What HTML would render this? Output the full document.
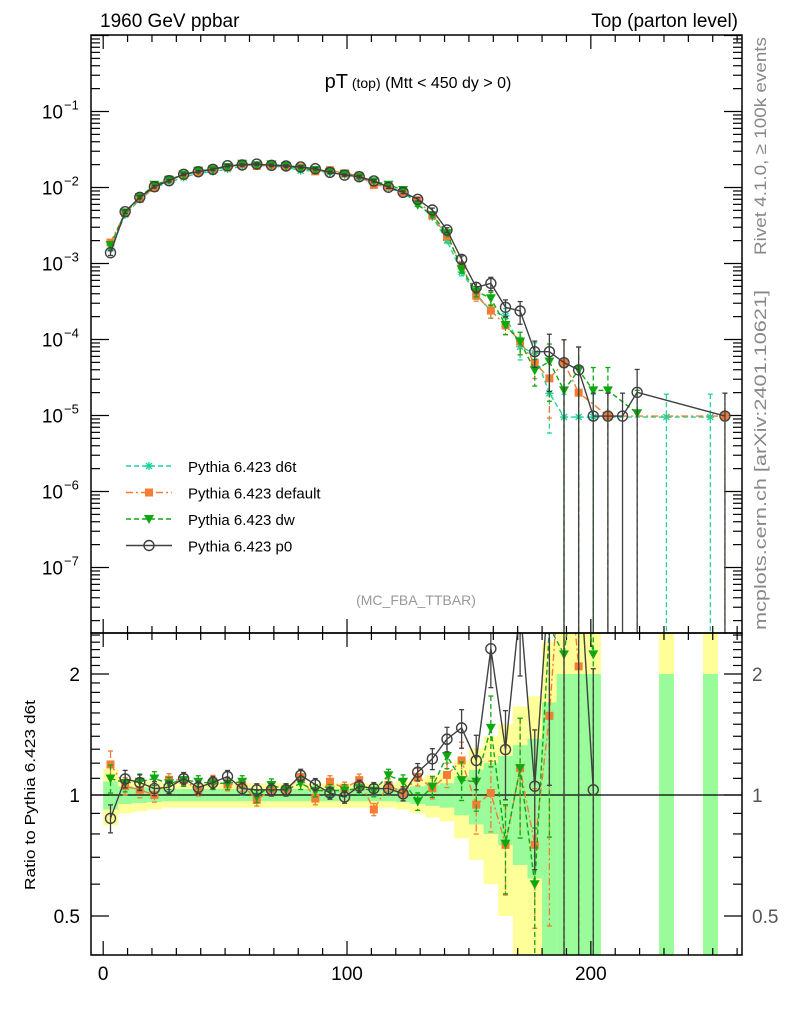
<!DOCTYPE html>
<html><head><meta charset="utf-8"><style>
body{margin:0;background:#fff;}
svg text{font-family:"Liberation Sans",sans-serif;}
</style></head><body>
<svg id="chart" width="786" height="1024" viewBox="0 0 786 1024" xmlns="http://www.w3.org/2000/svg">
<defs>
<clipPath id="clipMain"><rect x="91" y="35" width="651" height="598"/></clipPath>
<clipPath id="clipRatio"><rect x="91" y="633" width="651" height="322"/></clipPath>
</defs>
<g id="bands" clip-path="url(#clipRatio)"></g>
<g id="grid"></g>
<g id="mainMarks" clip-path="url(#clipMain)"></g>
<g id="ratioMarks" clip-path="url(#clipRatio)"></g>
<rect x="91" y="35" width="651" height="598" fill="none" stroke="#000" stroke-width="1.5"/>
<rect x="91" y="633" width="651" height="322" fill="none" stroke="#000" stroke-width="1.5"/>
<text x="100" y="27" font-size="19">1960 GeV ppbar</text>
<text x="738" y="27" font-size="19" text-anchor="end">Top (parton level)</text>
<text x="418" y="88" text-anchor="middle"><tspan font-size="20">pT</tspan><tspan font-size="14"> (top)</tspan><tspan font-size="16"> (Mtt &lt; 450 dy &gt; 0)</tspan></text>
<text x="416" y="605" font-size="14" fill="#999" text-anchor="middle">(MC_FBA_TTBAR)</text>
<text transform="translate(766,255) rotate(-90)" font-size="17" fill="#888" textLength="218" lengthAdjust="spacingAndGlyphs">Rivet 4.1.0, ≥ 100k events</text>
<text transform="translate(766,630) rotate(-90)" font-size="17" fill="#888" textLength="340" lengthAdjust="spacingAndGlyphs">mcplots.cern.ch [arXiv:2401.10621]</text>
<text transform="translate(35,890) rotate(-90)" font-size="15" textLength="190" lengthAdjust="spacingAndGlyphs">Ratio to Pythia 6.423 d6t</text>
<g id="legend"></g>
</svg>
<script>
// ---- data ----
const binCenters = [3,9,15,21,27,33,39,45,51,57,63,69,75,81,87,93,99,105,111,117,123,129,135,141,147,153,159,165,171,177,183,189,195,201,207,213,219,225,231,237,243,249,255];
const d6tLog = [-2.80,-2.358,-2.160,-2.005,-1.930,-1.867,-1.811,-1.792,-1.759,-1.720,-1.704,-1.721,-1.730,-1.779,-1.779,-1.805,-1.831,-1.880,-1.930,-2.013,-2.066,-2.212,-2.386,-2.698,-3.112,-3.399,-3.625,-3.689,-4.095,-4.183,-4.708,-5.02,-5.02,-5.02,null,null,null,null,-5.02,null,null,-5.02,null];
const defaultLog = [-2.724,-2.336,-2.147,-2.005,-1.892,-1.830,-1.798,-1.758,-1.733,-1.695,-1.716,-1.708,-1.717,-1.734,-1.788,-1.772,-1.814,-1.843,-1.966,-1.988,-2.062,-2.167,-2.369,-2.648,-3.026,-3.423,-3.620,-3.813,-4.028,-4.307,-4.511,-4.305,-4.70,null,-5.007,null,null,null,null,null,null,null,-5.007];
const dwLog = [-2.759,-2.328,-2.127,-1.964,-1.901,-1.830,-1.778,-1.763,-1.730,-1.687,-1.708,-1.696,-1.717,-1.750,-1.768,-1.794,-1.820,-1.863,-1.919,-1.964,-2.033,-2.228,-2.365,-2.601,-3.075,-3.366,-3.458,-3.810,-4.028,-4.405,-4.29,-4.67,-4.40,-4.67,-4.67,null,-4.97,null,null,null,null,null,null];
const p0Log = [-2.858,-2.318,-2.129,-1.989,-1.911,-1.826,-1.792,-1.761,-1.713,-1.704,-1.691,-1.708,-1.717,-1.730,-1.753,-1.800,-1.836,-1.858,-1.914,-1.997,-2.063,-2.155,-2.296,-2.559,-2.945,-3.313,-3.261,-3.576,-3.625,-4.161,-4.161,-4.305,-4.40,-5.007,-5.007,-5.007,-4.695,null,null,null,null,null,-5.007];
const relErr = [0.08,0.05,0.045,0.04,0.035,0.035,0.035,0.035,0.035,0.035,0.035,0.035,0.035,0.035,0.035,0.035,0.035,0.035,0.035,0.035,0.04,0.05,0.06,0.07,0.11,0.155,0.2,0.25,0.33,0.38,0.7,1,1,1,1,1,1,1,1,1,1,1,1];
const xTickLabels = [0,100,200];
const mainTickExps = [-1,-2,-3,-4,-5,-6,-7];
const ratioTickLabels = [0.5,1,2];

// ---- axes ----
const X0=91,X1=742,XMIN=-5,XMAX=262;
function xp(x){return X0+(x-XMIN)/(XMAX-XMIN)*(X1-X0);}
function yMain(lg){return 187.5+(-2-lg)*76;}
function yRatio(r){return 795-Math.log2(r)*121;}
const NS="http://www.w3.org/2000/svg";
function mk(tag,attrs,parent){const e=document.createElementNS(NS,tag);for(const k in attrs)e.setAttribute(k,attrs[k]);parent.appendChild(e);return e;}
const grid=document.getElementById('grid');

for(let v=0;v<=260;v+=10){
  const major=v%100===0, len=major?14:7, x=xp(v);
  [[35,1],[633,-1],[633,1],[955,-1]].forEach(([y,d])=>{
    const t=mk('line',{x1:x,x2:x,y1:y,y2:y+d*len,stroke:'#000','stroke-width':1.2},grid);
    
    
  });
}
xTickLabels.forEach(v=>{
  const t=mk('text',{x:xp(v),y:980,'font-size':19,'text-anchor':'middle'},grid);
  t.textContent=v;
  
  
});
for(let e=0;e>=-8;e--){
  for(let m=1;m<=9;m++){
    const lg=e+Math.log10(m); const y=yMain(lg);
    if(y<35||y>633)continue;
    const len=m===1?18:9;
    const a=mk('line',{x1:X0,x2:X0+len,y1:y,y2:y,stroke:'#000','stroke-width':1.2},grid);
    
    
    const b=mk('line',{x1:X1,x2:X1-len,y1:y,y2:y,stroke:'#000','stroke-width':1.2},grid);
    
    
  }
}
mainTickExps.forEach(e=>{
  const t=mk('text',{x:63,y:yMain(e)+7,'font-size':19,'text-anchor':'end'},grid);
  t.textContent='10';
  
  
  const s=mk('text',{x:64,y:yMain(e)-2,'font-size':13},grid);
  s.textContent='−'+(-e);
  
  
});
for(let r=0.4;r<=2.55;r+=0.1){
  const rr=Math.round(r*10)/10; const y=yRatio(rr);
  if(y<633||y>955)continue;
  const major=(rr===0.5||rr===1||rr===2); const len=major?18:9;
  const a=mk('line',{x1:X0,x2:X0+len,y1:y,y2:y,stroke:'#000','stroke-width':1.2},grid);
  
  
  const b=mk('line',{x1:X1,x2:X1-len,y1:y,y2:y,stroke:'#000','stroke-width':1.2},grid);
  
  
}
ratioTickLabels.forEach(v=>{
  const l=mk('text',{x:80,y:yRatio(v)+7,'font-size':19,'text-anchor':'end'},grid);
  l.textContent=v;
  
  
  const r=mk('text',{x:752,y:yRatio(v)+7,'font-size':19,fill:'#555'},grid);
  r.textContent=v;
  
  
});

// ---- bands ----
const bands=document.getElementById('bands');
const halfW=3;
d6tLog.forEach((v,i)=>{
  if(v===null)return;
  const xa=xp(binCenters[i]-halfW), xb=xp(binCenters[i]+halfW), s=relErr[i];
  const yTop=yRatio(1+2*s), yBot=(1-2*s)>0?yRatio(1-2*s):960;
  const yb=mk('rect',{x:xa,y:yTop,width:xb-xa+0.3,height:yBot-yTop,fill:'#ffff99'},bands);
  
  
  const gTop=yRatio(1+s), gBot=(1-s)>0.01?yRatio(1-s):960;
  const gb=mk('rect',{x:xa,y:gTop,width:xb-xa+0.3,height:gBot-gTop,fill:'#99fb99'},bands);
  
  
});
const one=mk('line',{x1:X0,x2:X1,y1:yRatio(1),y2:yRatio(1),stroke:'#000','stroke-width':1.2},grid);



// ---- series ----
const series=[
 {name:'d6t',label:'Pythia 6.423 d6t',data:d6tLog,color:'#1fd49e',dash:'5,3',marker:'star'},
 {name:'default',label:'Pythia 6.423 default',data:defaultLog,color:'#f47c35',dash:'7,3,2,3',marker:'square'},
 {name:'dw',label:'Pythia 6.423 dw',data:dwLog,color:'#10a810',dash:'5,3',marker:'tri'},
 {name:'p0',label:'Pythia 6.423 p0',data:p0Log,color:'#404040',dash:'',marker:'circle'}
];
function marker(g,type,x,y,c){
  let e;
  if(type==='circle') e=mk('circle',{cx:x,cy:y,r:5,fill:'none',stroke:c,'stroke-width':1.4},g);
  else if(type==='square') e=mk('rect',{x:x-4,y:y-4,width:8,height:8,fill:c},g);
  else if(type==='tri') e=mk('path',{d:`M${x-5},${y-4}L${x+5},${y-4}L${x},${y+5}Z`,fill:c},g);
  else e=mk('path',{d:`M${x-4},${y}L${x+4},${y}M${x},${y-4}L${x},${y+4}M${x-3},${y-3}L${x+3},${y+3}M${x-3},${y+3}L${x+3},${y-3}`,stroke:c,'stroke-width':1.4},g);
  return e;
}
function drawErr(g,x,yHi,yLo,c,dash){
  const l=mk('line',{x1:x,x2:x,y1:yHi,y2:yLo,stroke:c,'stroke-width':1.3,'stroke-dasharray':dash},g);
  
  
  mk('line',{x1:x-2.5,x2:x+2.5,y1:yHi,y2:yHi,stroke:c,'stroke-width':1.3},g);
  mk('line',{x1:x-2.5,x2:x+2.5,y1:yLo,y2:yLo,stroke:c,'stroke-width':1.3},g);
}
const mainG=document.getElementById('mainMarks'), ratioG=document.getElementById('ratioMarks');
series.forEach(s=>{
  const gm=mk('g',{},mainG);
  
  
  const gr=mk('g',{},ratioG);
  
  
  const ptsM=[], ptsR=[];
  s.data.forEach((v,i)=>{
    if(v===null)return;
    const x=xp(binCenters[i]), e=relErr[i];
    const y=yMain(v);
    const hi=yMain(v+Math.log10(1+e));
    const lo=(1-e)>0.001?yMain(v+Math.log10(1-e)):700;
    drawErr(gm,x,hi,lo,s.color,s.dash);
    ptsM.push([x,y]);
    if(d6tLog[i]!==null){
      const r=Math.pow(10,v-d6tLog[i]);
      const yr=yRatio(r);
      const rh=yRatio(r*(1+e)), rl=(r*(1-e))>0.01?yRatio(r*(1-e)):1000;
      if(s.name!=='d6t'){drawErr(gr,x,rh,rl,s.color,s.dash);}
      ptsR.push([x,yr]);
    }
  });
  const pl=mk('polyline',{points:ptsM.map(p=>p.join(',')).join(' '),fill:'none',stroke:s.color,'stroke-width':1.4,'stroke-dasharray':s.dash},gm);
  
  
  if(s.name!=='d6t'){
    const pr=mk('polyline',{points:ptsR.map(p=>p.join(',')).join(' '),fill:'none',stroke:s.color,'stroke-width':1.4,'stroke-dasharray':s.dash},gr);
    
    
  }
  ptsM.forEach(p=>{const m=marker(gm,s.marker,p[0],p[1],s.color);
    
    });
  if(s.name!=='d6t') ptsR.forEach(p=>{const m=marker(gr,s.marker,p[0],p[1],s.color);
    
    });
});
const lg=document.getElementById('legend');
series.forEach((s,i)=>{
  const y=466+i*26.5;
  const g=mk('g',{},lg);
  
  
  mk('line',{x1:126,x2:172,y1:y,y2:y,stroke:s.color,'stroke-width':1.4,'stroke-dasharray':s.dash},g);
  marker(g,s.marker,149,y,s.color);
  const t=mk('text',{x:188,y:y+6,'font-size':15},g);
  t.textContent=s.label;
});
</script>
</body></html>
